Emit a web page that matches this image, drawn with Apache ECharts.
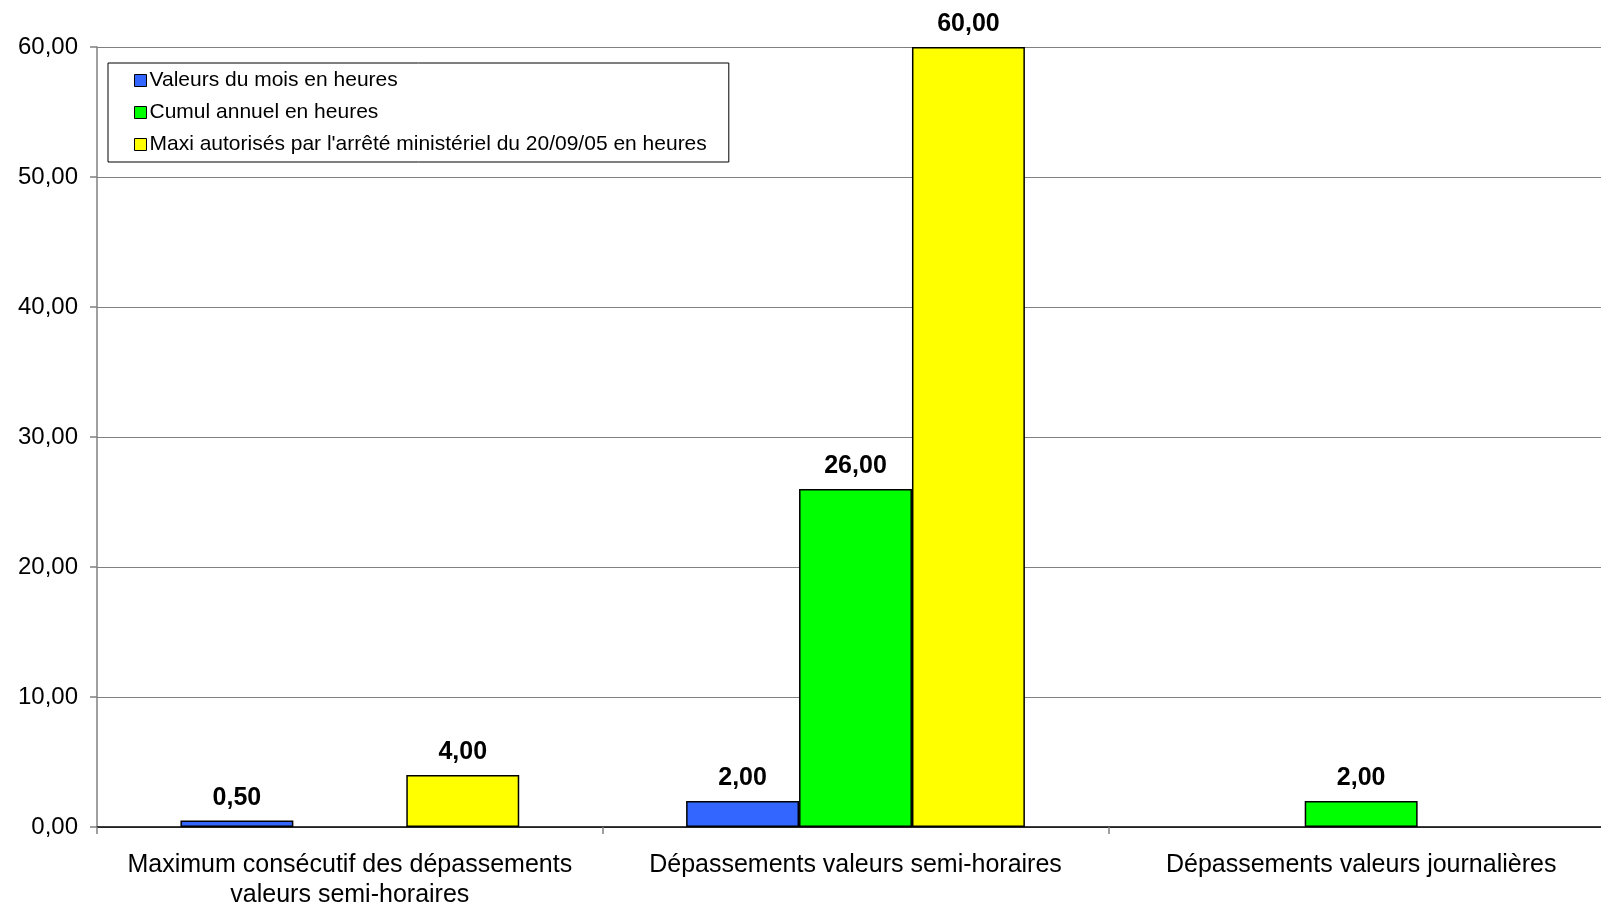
<!DOCTYPE html>
<html><head><meta charset="utf-8">
<script src="https://cdn.jsdelivr.net/npm/echarts@6/dist/echarts.min.js"></script>
<style>html,body{margin:0;padding:0;background:#fff;overflow:hidden}#c{width:1601px;height:905px}</style>
</head><body><div id="c"></div>
<script>
const categories = ["Maximum consécutif des dépassements\nvaleurs semi-horaires", "Dépassements valeurs semi-horaires", "Dépassements valeurs journalières"];
const seriesNames = ["Valeurs du mois en heures", "Cumul annuel en heures", "Maxi autorisés par l'arrêté ministériel du 20/09/05 en heures"];
const valeursMois = [0.5, 2, null];
const cumulAnnuel = [null, 26, 2];
const maxiAutorises = [4, 60, null];
const colors = ["#3366FF", "#00FF00", "#FFFF00"];

const fmt = v => v.toFixed(2).replace('.', ',');
const font = "'Liberation Sans', Arial, sans-serif";
const mk = (name, data, color) => ({
  name, type: 'bar', data, barGap: '0%', barCategoryGap: '33%',
  itemStyle: { color, borderColor: '#000', borderWidth: 1.5 },
  label: { show: true, position: 'top', distance: 10, fontFamily: font, fontSize: 25, fontWeight: 'bold', color: '#000',
    formatter: p => p.value == null ? '' : fmt(p.value) }
});
const chart = echarts.init(document.getElementById('c'));
chart.setOption({
  animation: false,
  backgroundColor: '#fff',
  grid: { left: 97, right: -13, top: 47, bottom: 78, containLabel: false, outerBoundsMode: 'none' },
  legend: {
    orient: 'vertical', left: 108, top: 63, data: seriesNames,
    backgroundColor: '#fff', borderColor: '#000', borderWidth: 1,
    padding: [7, 22, 7, 26], itemGap: 11, itemWidth: 12, itemHeight: 12,
    icon: 'rect', textStyle: { fontFamily: font, fontSize: 21, lineHeight: 21, color: '#000', padding: [0, 0, 0, -2] },
    itemStyle: { borderColor: '#000', borderWidth: 1 }
  },
  xAxis: {
    type: 'category', data: categories,
    axisLine: { lineStyle: { color: '#000', width: 1.5 } },
    axisTick: { show: true, length: 7, lineStyle: { color: '#808080', width: 1.5 } },
    axisLabel: { fontFamily: font, fontSize: 25, color: '#000', margin: 23, lineHeight: 30, interval: 0 }
  },
  yAxis: {
    type: 'value', min: 0, max: 60, interval: 10,
    axisLine: { show: true, lineStyle: { color: '#808080', width: 1.5 } },
    axisTick: { show: true, length: 7, lineStyle: { color: '#808080', width: 1.5 } },
    splitLine: { lineStyle: { color: '#808080', width: 1.2 } },
    axisLabel: { fontFamily: font, fontSize: 24, color: '#000', margin: 19, formatter: v => fmt(v) }
  },
  series: [mk(seriesNames[0], valeursMois, colors[0]), mk(seriesNames[1], cumulAnnuel, colors[1]), mk(seriesNames[2], maxiAutorises, colors[2])]
});
</script></body></html>
